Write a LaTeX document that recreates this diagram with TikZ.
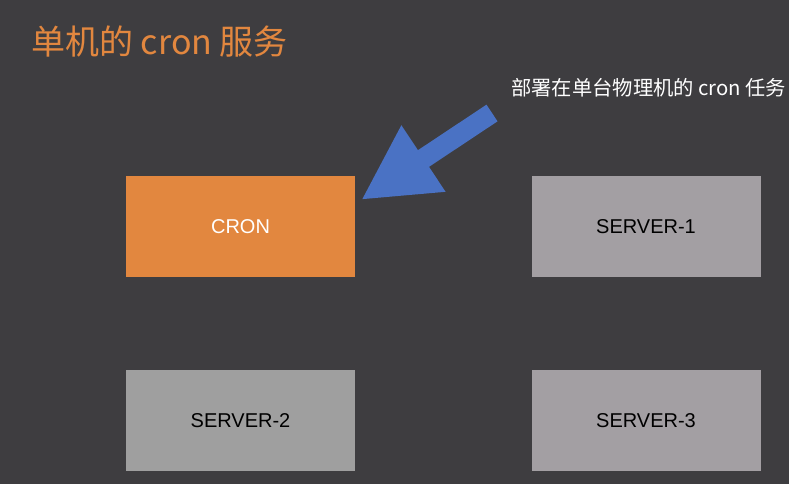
\documentclass[tikz,border=0pt]{standalone}
\usepackage{fontspec}
\setmainfont{Liberation Sans}
\newfontfamily\cjk{Noto Sans CJK SC}
\usetikzlibrary{arrows.meta}
\definecolor{bgdark}{HTML}{3E3D40}
\definecolor{cronorange}{HTML}{E2873F}
\definecolor{servergray}{HTML}{A39FA3}
\definecolor{arrowblue}{HTML}{4A72C4}

\begin{document}
\begin{tikzpicture}[
    x=1pt,y=-1pt,
    box/.style={rectangle,minimum width=229pt,minimum height=101pt,inner sep=0pt,font=\fontsize{20}{24}\selectfont},
    cron/.style={box,fill=cronorange,text=white},
    server/.style={box,fill=servergray,text=black},
    pointer/.style={draw=arrowblue,line width=20pt,-{Triangle[length=75pt,width=74pt,fill=arrowblue]}}
]

    % background
    \fill[bgdark] (0,0) rectangle (789,484);
    \useasboundingbox (0,0) rectangle (789,484);

    % title and remark
    \node[anchor=west,text=cronorange,inner sep=0pt,font=\cjk\fontsize{34}{40}\selectfont] (title) at (31,42) {单机的 cron 服务};
    \node[anchor=west,text=white,inner sep=0pt,font=\cjk\fontsize{20.3}{24}\selectfont] (remark) at (511,88) {部署在单台物理机的 cron 任务};

    % machines
    \node[cron] (cron) at (240.5,226.5) {CRON};
    \node[server] (server1) at (646,226.5) {SERVER-1};
    \node[server,fill=gray!75] (server2) at (240.5,420.5) {SERVER-2};
    \node[server] (server3) at (646,420.5) {SERVER-3};

    % pointer to the cron machine
    \coordinate (tail) at (492,113);
    \coordinate (tip) at (361,200);
    \draw[pointer] (tail) -- (tip);

\end{tikzpicture}
\end{document}
